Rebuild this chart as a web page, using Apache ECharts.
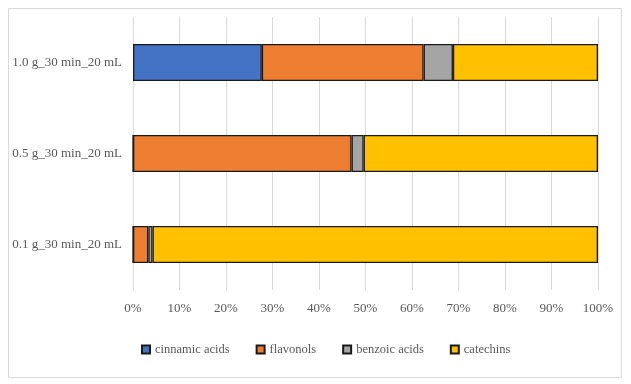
<!DOCTYPE html>
<html>
<head>
<meta charset="utf-8">
<script src="https://cdn.jsdelivr.net/npm/echarts@6/dist/echarts.min.js"></script>
<style>
	html, body { margin: 0; padding: 0; background: #fff; }
	#main { width: 631px; height: 384px; }
</style>
</head>
<body>
<div id="main"></div>
<script>
	// categories bottom -> top
	const categories = ['0.1 g_30 min_20 mL', '0.5 g_30 min_20 mL', '1.0 g_30 min_20 mL'];
	const seriesNames = ['cinnamic acids', 'flavonols', 'benzoic acids', 'catechins'];
	const cinnamic = [0, 0, 27.7];
	const flavonols = [3.3, 47.0, 34.8];
	const benzoic = [0.9, 2.6, 6.3];
	const catechins = [95.8, 50.4, 31.2];
	const colors = ['#4472C4', '#ED7D31', '#A5A5A5', '#FFC000'];

	const chart = echarts.init(document.getElementById('main'));
	const font = '"Liberation Serif", "DejaVu Serif", serif';
	const values = [cinnamic, flavonols, benzoic, catechins];

	const option = {
		animation: false,
		color: colors,
		graphic: [{
			type: 'rect',
			shape: { x: 8.5, y: 8.5, width: 613, height: 369 },
			style: { fill: 'none', stroke: '#d9d9d9', lineWidth: 1 }
		}],
		grid: { left: 133, right: 33, top: 17, bottom: 94 },
		legend: {
			bottom: 23,
			left: 136,
			itemWidth: 8,
			itemHeight: 8,
			itemGap: 26,
			icon: 'rect',
			textStyle: { fontFamily: font, fontSize: 12.5, color: '#595959' },
			data: seriesNames
		},
		xAxis: {
			type: 'value',
			min: 0,
			max: 100,
			interval: 10,
			axisLabel: {
				formatter: '{value}%',
				fontFamily: font, fontSize: 13, color: '#595959', margin: 12
			},
			axisLine: { show: false },
			axisTick: { show: false },
			splitLine: { lineStyle: { color: '#d9d9d9', width: 1 } }
		},
		yAxis: {
			type: 'category',
			data: categories,
			axisLabel: { fontFamily: font, fontSize: 13, color: '#595959', margin: 11 },
			axisLine: { show: false },
			axisTick: { show: false }
		},
		series: seriesNames.map((name, i) => ({
			name: name,
			type: 'bar',
			stack: 'total',
			barWidth: 37,
			data: values[i],
			itemStyle: { borderColor: '#1a1a1a', borderWidth: 1.3 }
		}))
	};
	chart.setOption(option);
</script>
</body>
</html>
